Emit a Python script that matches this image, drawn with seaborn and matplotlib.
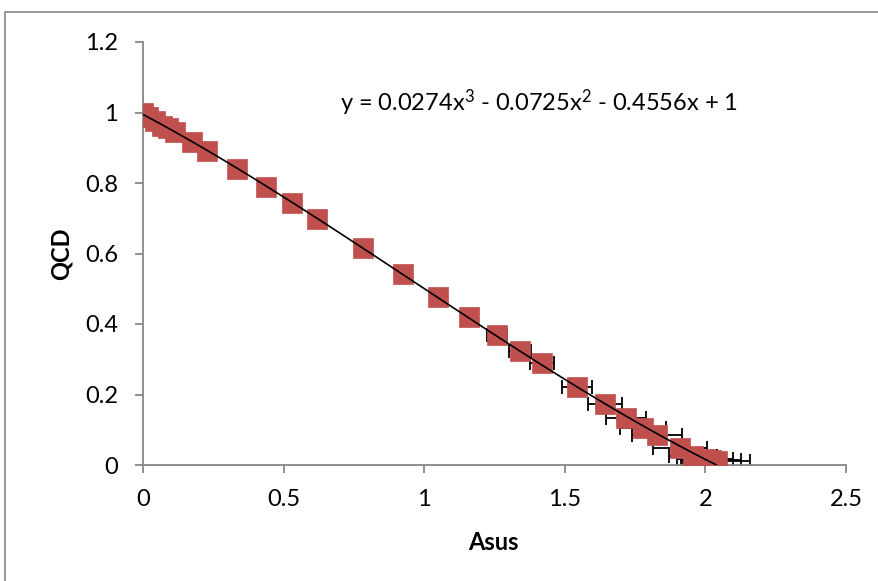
import numpy as np
import pandas as pd
import matplotlib
matplotlib.use("Agg")
import matplotlib.pyplot as plt
from matplotlib.patches import Rectangle
import seaborn as sns

# ---- data ----
asus = [0.000, 0.018, 0.043, 0.068, 0.090, 0.114, 0.174, 0.228, 0.334, 0.437,
        0.530, 0.619, 0.782, 0.925, 1.049, 1.159, 1.259, 1.341, 1.419, 1.543,
        1.643, 1.718, 1.778, 1.828, 1.910, 1.956, 1.999, 2.020, 2.040]
qcd = [1.000, 0.988, 0.975, 0.963, 0.955, 0.946, 0.917, 0.891, 0.840, 0.789,
       0.743, 0.698, 0.615, 0.543, 0.477, 0.420, 0.369, 0.323, 0.288, 0.222,
       0.174, 0.134, 0.105, 0.086, 0.048, 0.026, 0.017, 0.013, 0.011]
asus_err = [0.0, 0.0, 0.0, 0.0, 0.0, 0.0, 0.0, 0.0, 0.0, 0.0,
            0.0, 0.0, 0.0, 0.01, 0.02, 0.028, 0.036, 0.039, 0.044, 0.054,
            0.060, 0.072, 0.082, 0.089, 0.096, 0.085, 0.100, 0.105, 0.120]
equation = r"y = 0.0274x$^3$ - 0.0725x$^2$ - 0.4556x + 1"
x_ticks = [0, 0.5, 1, 1.5, 2, 2.5]
y_ticks = [0, 0.2, 0.4, 0.6, 0.8, 1, 1.2]
x_tick_labels = ["0", "0.5", "1", "1.5", "2", "2.5"]
y_tick_labels = ["0", "0.2", "0.4", "0.6", "0.8", "1", "1.2"]

df = pd.DataFrame({"Asus": asus, "QCD": qcd, "err": asus_err})

sns.set_style("white")
plt.rcParams["font.family"] = ["Lato", "DejaVu Sans"]
plt.rcParams["mathtext.fontset"] = "custom"
plt.rcParams["mathtext.rm"] = "Lato"
plt.rcParams["mathtext.it"] = "Lato:italic"
plt.rcParams["mathtext.bf"] = "Lato:bold"

W, H = 879, 581
fig = plt.figure(figsize=(W / 100, H / 100), dpi=100)
ax = fig.add_axes([143 / W, 1 - 465 / H, (846 - 143) / W, (465 - 42) / H])

# error bars (behind markers)
ax.errorbar(df["Asus"], df["QCD"], xerr=df["err"], fmt="none", ecolor="black",
            elinewidth=1.3, capsize=5, capthick=1.3, zorder=2)
# markers
sns.scatterplot(data=df, x="Asus", y="QCD", marker="s", s=200, color="#C0504D",
                edgecolor="#C0504D", linewidth=0.5, ax=ax, zorder=3, legend=False)
# 3rd-order polynomial trendline
sns.regplot(data=df, x="Asus", y="QCD", order=3, ci=None, scatter=False, ax=ax,
            line_kws={"color": "black", "linewidth": 1.2, "zorder": 4})

ax.set_xlim(0, 2.5)
ax.set_ylim(0, 1.2)
ax.set_xticks(x_ticks)
ax.set_xticklabels(x_tick_labels)
ax.set_yticks(y_ticks)
ax.set_yticklabels(y_tick_labels)

gray = "#878787"
for side in ["top", "right"]:
    ax.spines[side].set_visible(False)
for side in ["left", "bottom"]:
    ax.spines[side].set_color(gray)
    ax.spines[side].set_linewidth(1.3)
ax.tick_params(axis="both", direction="out", length=6, width=1.3, color=gray,
               labelsize=17, labelcolor="black")
ax.tick_params(axis="x", pad=11, bottom=True)
ax.tick_params(axis="y", pad=12, left=True)

ax.set_xlabel("Asus", fontsize=17, fontweight="bold", color="black")
ax.set_ylabel("QCD", fontsize=17, fontweight="bold", color="black")
ax.xaxis.set_label_coords(0.498, -0.155)
ax.yaxis.set_label_coords(-0.100, 0.5)

ax.text(1.408, 1.029, equation, ha="center", va="center", fontsize=17, color="black")

fig.patches.append(Rectangle((5.5 / W, -0.1), 1.2, (581 - 12.5) / H + 0.1,
                             transform=fig.transFigure, fill=False,
                             edgecolor=gray, linewidth=1.2))

fig.savefig("out.png", dpi=100)
